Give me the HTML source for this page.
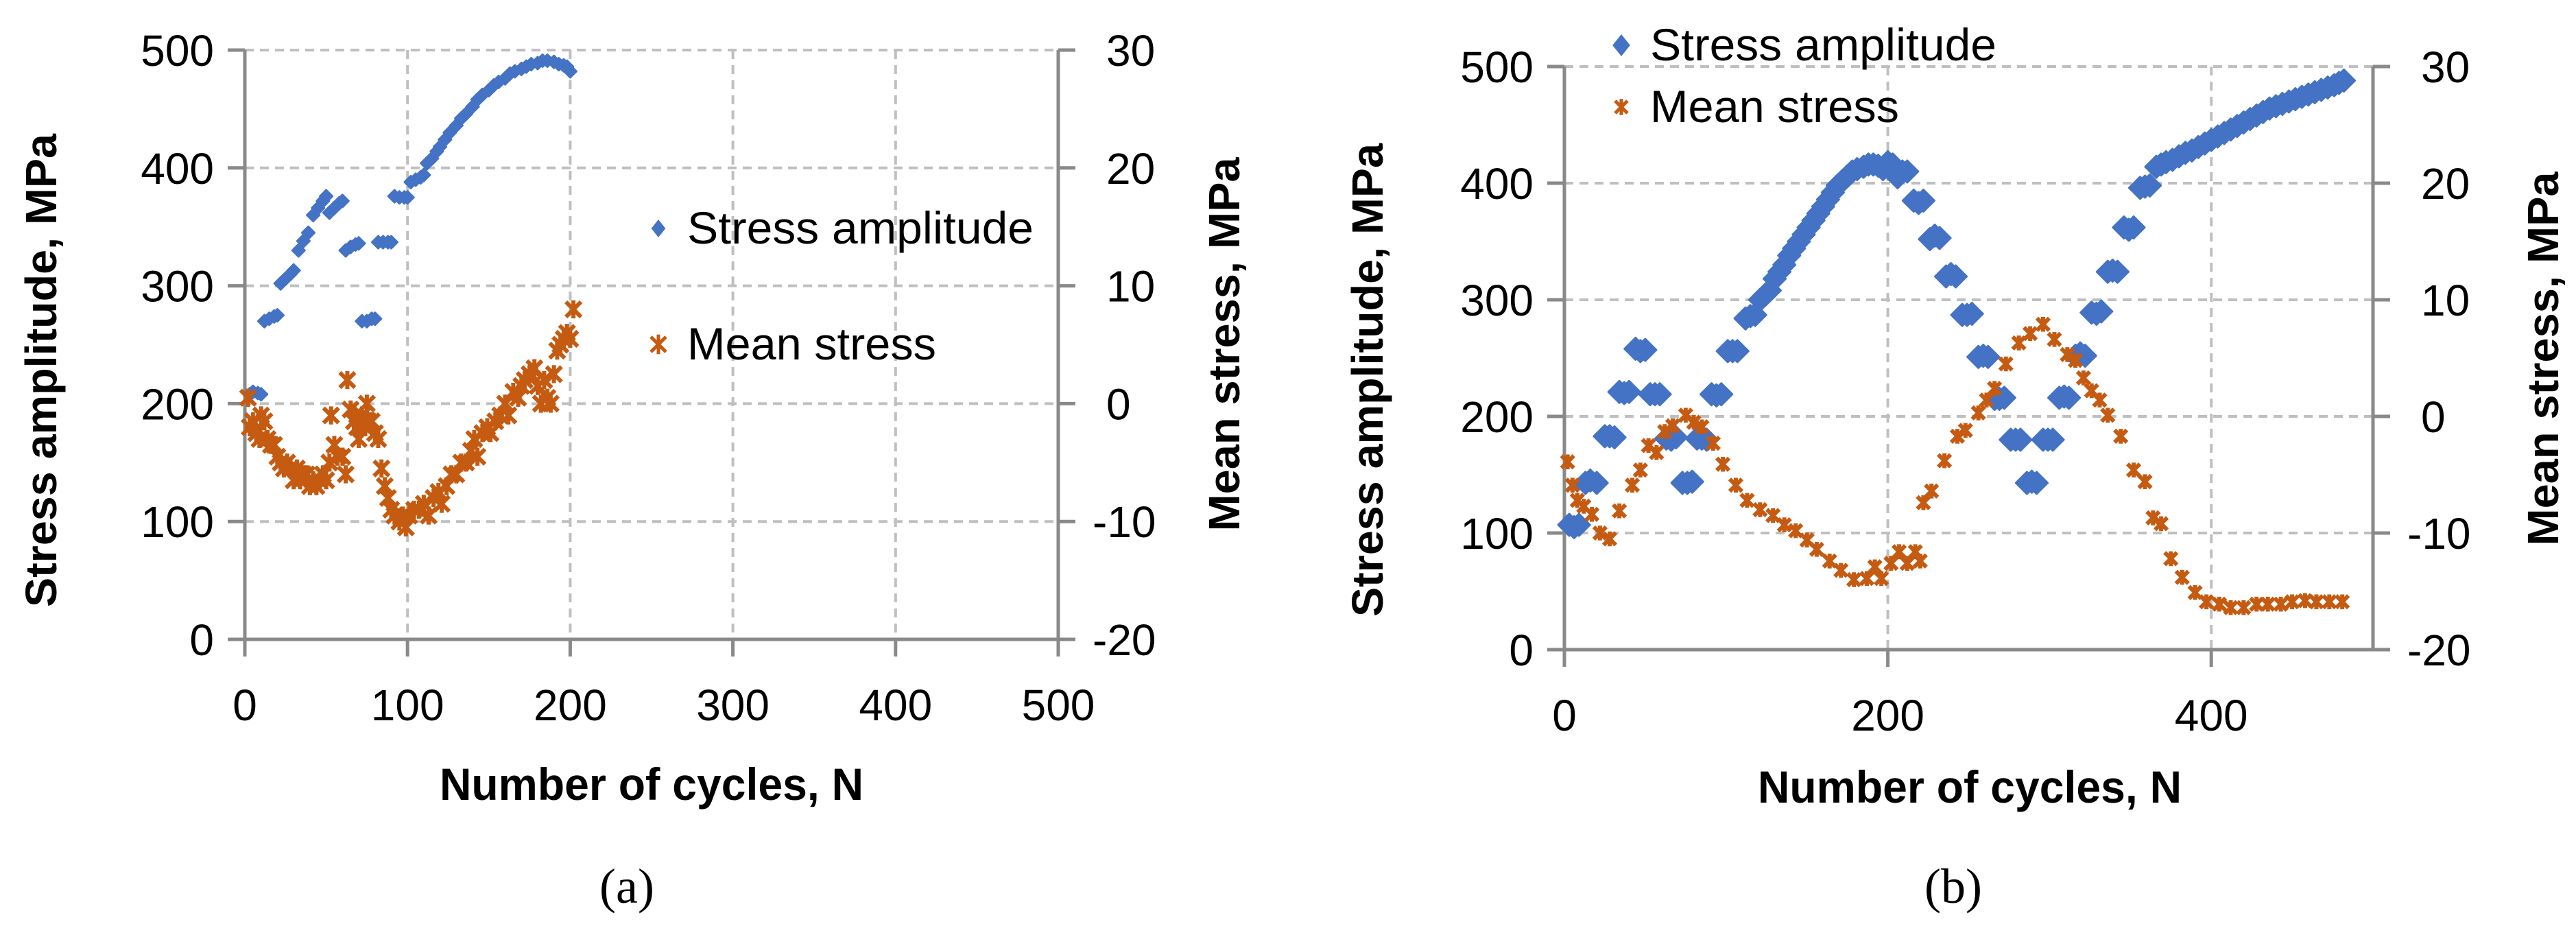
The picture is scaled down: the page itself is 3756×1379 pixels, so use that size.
<!DOCTYPE html>
<html><head><meta charset="utf-8"><style>
html,body{margin:0;padding:0;background:#fff;}
svg{display:block;font-family:"Liberation Sans",sans-serif;}
</style></head><body>
<svg id="svg" width="3756" height="1379" viewBox="0 0 3756 1379" xmlns="http://www.w3.org/2000/svg"></svg>
<script>
// ---------- Chart (a) data ----------
const aAmpX=[3,5,8,10,12,15,18,20,22,25,28,30,33,36,39,42,45,48,50,52,55,58,60,62,65,68,70,72,75,78,80,82,85,88,90,92,95,98,100,102,105,108,110,112,115,118,120,123,126,130,133,136,140,143,146,150,153,156,160,163,166,170,173,176,180,183,186,190,193,196,198,200];
const aAmpY=[208,210,209,208,270,272,274,275,302,306,310,313,330,338,345,360,366,372,376,362,366,370,372,330,333,335,336,270,270,272,272,337,337,337,337,376,375,375,375,388,390,392,394,404,408,414,418,424,430,436,442,446,452,458,462,466,470,473,476,480,482,484,486,488,489,491,491,490,488,487,486,482];
const aMeanX=[2,3,5,7,9,10,12,14,16,18,20,22,24,26,28,30,32,34,36,38,40,42,44,46,48,50,52,53,55,57,60,62,63,65,67,69,70,72,74,75,76,78,80,82,84,86,88,90,92,95,97,99,101,104,107,110,113,116,119,121,124,127,130,133,136,139,141,143,146,149,151,154,157,160,162,165,168,170,172,175,178,180,182,184,186,188,190,192,194,196,198,200,202];
const aMeanY=[0.5,-2,-1.5,-2.5,-3,-1,-1.5,-3,-3.5,-3.5,-4.5,-5,-5.5,-5,-5.5,-6.5,-5.5,-6.5,-6,-6,-7,-6.5,-7,-6.5,-6,-6.5,-5,-1,-3.5,-4.5,-4.5,-6,2,-0.5,-1.5,-2,-3,-1,-2,0,-1.5,-1.5,-2.5,-3,-5.5,-7,-8,-9,-9.5,-10,-9.5,-10.5,-9.5,-9,-9,-8.5,-9.5,-8,-7.5,-8.5,-7,-6,-6,-5,-5,-4,-3,-4.5,-2.5,-2,-2.5,-1.5,-1,0,-1,1,0.5,1.5,2,2.5,3,1.5,0,2,0.5,0,2.5,4.5,5,5.5,6,5.5,8];
const aXTicks=[0,100,200,300,400,500];
const aYTicks=[0,100,200,300,400,500];
const aY2Ticks=[-20,-10,0,10,20,30];
// ---------- Chart (b) data ----------
const bAmpX=[3,6,9,13,16,20,25,28,31,34,37,40,44,47,50,53,56,59,63,66,69,73,76,79,82,85,88,91,94,97,101,104,107,112,115,118,121,124,127,130,133,136,139,142,145,148,151,154,157,160,163,166,169,172,175,178,181,185,188,191,194,197,200,203,206,209,212,216,219,222,226,229,232,236,239,242,246,249,252,256,259,262,266,269,272,276,279,282,286,289,292,296,299,302,306,309,312,316,319,322,326,329,332,336,339,342,346,349,352,356,359,362,366,369,372,376,380,384,388,392,396,400,404,408,412,416,420,424,428,432,436,440,444,448,452,456,460,464,468,472,476,479,482];
const bAmpY=[107,105,107,143,145,143,183,183,182,221,220,221,258,256,257,219,219,219,181,180,182,143,143,144,181,181,180,219,218,219,256,256,256,284,286,287,300,304,308,318,324,330,338,344,350,356,362,368,374,380,386,392,398,402,406,410,412,414,416,416,415,412,418,416,405,410,410,385,383,385,352,355,353,320,322,320,287,287,288,251,252,251,215,215,216,180,180,180,143,144,143,180,180,180,216,217,216,252,254,252,289,288,290,324,325,324,362,360,362,396,397,398,414,416,418,420,423,426,428,431,434,437,440,443,446,449,452,455,458,461,464,466,468,470,472,474,476,478,480,482,484,486,488];
const bMeanX=[2,5,8,12,17,22,28,34,42,47,52,57,62,67,75,80,85,92,98,106,113,121,129,136,143,150,156,164,171,179,187,192,196,202,207,212,217,220,222,227,235,243,248,256,261,266,273,281,288,296,303,311,316,321,326,331,336,344,352,359,364,369,375,382,390,397,405,412,420,428,435,443,450,458,465,473,481];
const bMeanY=[-3.9,-5.9,-7.2,-7.7,-8.4,-10,-10.5,-8.1,-5.9,-4.6,-2.5,-3.1,-1.3,-0.8,0.1,-0.5,-0.9,-2.3,-4.1,-5.9,-7.2,-8,-8.5,-9.3,-9.8,-10.6,-11.4,-12.4,-13.2,-14,-13.9,-12.9,-13.9,-12.6,-11.6,-12.6,-11.6,-12.4,-7.4,-6.4,-3.8,-1.7,-1.2,0.3,1.4,2.4,4.5,6.3,7.1,7.9,6.6,5.3,4.8,3.3,2.2,1.4,0.1,-1.7,-4.6,-5.6,-8.7,-9.2,-12.2,-13.8,-15.1,-15.9,-16.1,-16.4,-16.4,-16.1,-16.1,-16.1,-15.9,-15.8,-15.9,-15.9,-15.9];
const bXTicks=[0,200,400];
const bYTicks=[0,100,200,300,400,500];
const bY2Ticks=[-20,-10,0,10,20,30];

const NS="http://www.w3.org/2000/svg";
const svg=document.getElementById('svg');
function mk(tag,attrs,parent,text){const e=document.createElementNS(NS,tag);for(const k in attrs)e.setAttribute(k,attrs[k]);if(text!==undefined)e.textContent=text;(parent||svg).appendChild(e);return e;}
const BLUE="#4472c4",ORANGE="#c55a11",AX="#898989",GR="#bfbfbf";

function chart(o){
  const g=mk('g',{});
  
  
  const sx=v=>o.L+(v-0)/(o.xMax)*(o.R-o.L);
  const sy=v=>o.B-(v/500)*(o.B-o.T);
  const sy2=v=>o.B-((v+20)/50)*(o.B-o.T);
  o.yTicks.forEach(t=>{ if(t>0){const l=mk('line',{x1:o.L,x2:o.R,y1:sy(t),y2:sy(t),stroke:GR,'stroke-width':4,'stroke-dasharray':'13,9'},g);
    
    }});
  o.xTicks.forEach(t=>{ if(t>0&&sx(t)<o.R-5){const l=mk('line',{x1:sx(t),x2:sx(t),y1:o.T,y2:o.B,stroke:GR,'stroke-width':4,'stroke-dasharray':'13,9'},g);
    
    }});
  const ax=mk('g',{stroke:AX,'stroke-width':5},g);
  
  
  mk('line',{x1:o.L,x2:o.L,y1:o.T,y2:o.B+25},ax);
  mk('line',{x1:o.R,x2:o.R,y1:o.T,y2:o.B},ax);
  mk('line',{x1:o.L-25,x2:o.R+25,y1:o.B,y2:o.B},ax);
  o.yTicks.forEach(t=>mk('line',{x1:o.L-25,x2:o.L,y1:sy(t),y2:sy(t)},ax));
  o.y2Ticks.forEach(t=>mk('line',{x1:o.R,x2:o.R+25,y1:sy2(t),y2:sy2(t)},ax));
  o.xTicks.forEach(t=>mk('line',{x1:sx(t),x2:sx(t),y1:o.B,y2:o.B+25},ax));
  o.yTicks.forEach(t=>{const e=mk('text',{x:o.L-45,y:sy(t)+23,'text-anchor':'end','font-size':64,fill:'#000'},g,String(t));
    
    });
  o.y2Ticks.forEach(t=>{const e=mk('text',{x:o.R+(t<0?50:70),y:sy2(t)+23,'text-anchor':'start','font-size':64,fill:'#000'},g,String(t));
    
    });
  o.xTicks.forEach(t=>{const e=mk('text',{x:sx(t),y:o.xLabY,'text-anchor':'middle','font-size':64,fill:'#000'},g,String(t));
    
    });
  const sA=mk('g',{fill:BLUE},g);
  
  
  const d=o.dia;
  o.ampX.forEach((x,i)=>{const cx=sx(x),cy=sy(o.ampY[i]);
    const p=mk('polygon',{points:`${cx},${cy-d} ${cx+d},${cy} ${cx},${cy+d} ${cx-d},${cy}`,'stroke':BLUE,'stroke-width':3,'stroke-linejoin':'round'},sA);
    
    });
  const sM=mk('g',{stroke:ORANGE,'stroke-width':o.sw,fill:'none'},g);
  
  
  const s=o.star;
  o.meanX.forEach((x,i)=>{const cx=sx(x),cy=sy2(o.meanY[i]);
    const p=mk('path',{d:`M${cx-s},${cy-s}L${cx+s},${cy+s}M${cx+s},${cy-s}L${cx-s},${cy+s}M${cx},${cy-s*1.2}L${cx},${cy+s*1.2}`},sM);
    
    });
  let e=mk('text',{transform:`translate(${o.ltX},${o.ltY}) rotate(-90)`,'text-anchor':'middle','font-size':64,'font-weight':'bold',textLength:690,lengthAdjust:'spacingAndGlyphs'},g,'Stress amplitude, MPa');
  
  
  e=mk('text',{transform:`translate(${o.rtX},${o.rtY}) rotate(-90)`,'text-anchor':'middle','font-size':64,'font-weight':'bold',textLength:545,lengthAdjust:'spacingAndGlyphs'},g,'Mean stress, MPa');
  
  
  e=mk('text',{x:o.xtX,y:o.xtY,'text-anchor':'middle','font-size':66,'font-weight':'bold',textLength:618,lengthAdjust:'spacingAndGlyphs'},g,'Number of cycles, N');
  
  
  e=mk('text',{x:o.capX,y:1316,'text-anchor':'middle','font-size':72,'font-family':'Liberation Serif, serif'},g,o.cap);
  
  
  const lg=mk('g',{},g);
  
  
  const lx=o.legX,ly1=o.legY1,ly2=o.legY2,ld=o.legDia;
  mk('polygon',{points:`${lx},${ly1-ld} ${lx+ld*0.8},${ly1} ${lx},${ly1+ld} ${lx-ld*0.8},${ly1}`,fill:BLUE},lg);
  e=mk('text',{x:o.legTX,y:ly1+22,'font-size':66,textLength:505,lengthAdjust:'spacingAndGlyphs'},lg,'Stress amplitude');
  
  
  const ls=o.legStar;
  mk('path',{d:`M${lx-ls},${ly2-ls}L${lx+ls},${ly2+ls}M${lx+ls},${ly2-ls}L${lx-ls},${ly2+ls}M${lx},${ly2-ls*1.3}L${lx},${ly2+ls*1.3}`,stroke:ORANGE,'stroke-width':5},lg);
  e=mk('text',{x:o.legTX,y:ly2+22,'font-size':66,textLength:363,lengthAdjust:'spacingAndGlyphs'},lg,'Mean stress');
  
  
}

chart({name:'chart-a',L:357,R:1543,T:73,B:932,xMax:500,xTicks:aXTicks,yTicks:aYTicks,y2Ticks:aY2Ticks,
  ampX:aAmpX,ampY:aAmpY,meanX:aMeanX,meanY:aMeanY,dia:9,star:11,sw:6,xLabY:1050,
  ltX:82,ltY:540,rtX:1807,rtY:502,xtX:950,xtY:1166,capX:914,cap:'(a)',
  legX:960,legY1:333,legY2:502,legDia:13,legStar:11,legTX:1002});
chart({name:'chart-b',L:2281,R:3460,T:97,B:947,xMax:500,xTicks:bXTicks,yTicks:bYTicks,y2Ticks:bY2Ticks,
  ampX:bAmpX,ampY:bAmpY,meanX:bMeanX,meanY:bMeanY,dia:16,star:9,sw:6,xLabY:1065,
  ltX:2016,ltY:554,rtX:3730,rtY:523,xtX:2872,xtY:1170,capX:2848,cap:'(b)',
  legX:2364,legY1:66,legY2:156,legDia:16,legStar:9,legTX:2406});
</script>
</body></html>
